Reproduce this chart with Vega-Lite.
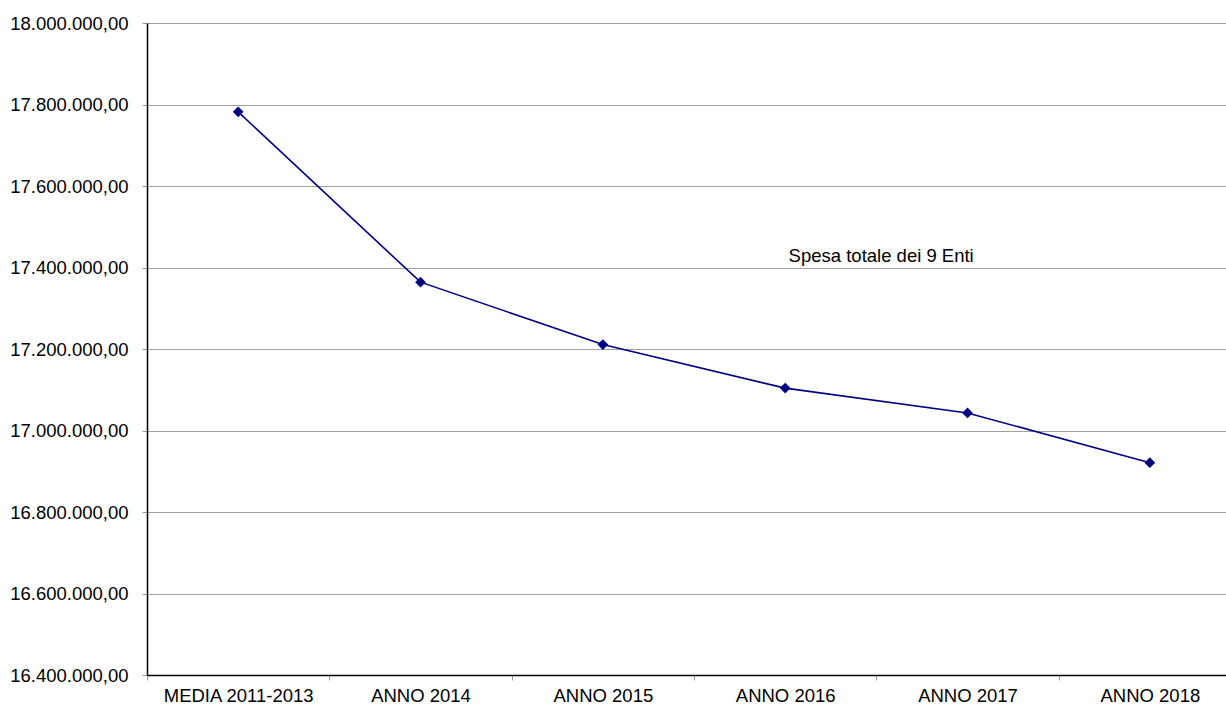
{
  "$schema": "https://vega.github.io/schema/vega-lite/v6.json",
  "width": 1094,
  "height": 652,
  "autosize": {"type": "none"},
  "padding": {"left": 147, "top": 23, "right": 0, "bottom": 29},
  "background": "white",
  "config": {
    "locale": {"number": {"decimal": ",", "thousands": ".", "grouping": [3], "currency": ["€", ""]}},
    "view": {"stroke": null},
    "font": "Liberation Sans"
  },
  "data": {
    "values": [
      {"periodo": "MEDIA 2011-2013", "spesa": 17782000},
      {"periodo": "ANNO 2014", "spesa": 17364000},
      {"periodo": "ANNO 2015", "spesa": 17211000},
      {"periodo": "ANNO 2016", "spesa": 17104000},
      {"periodo": "ANNO 2017", "spesa": 17043000},
      {"periodo": "ANNO 2018", "spesa": 16921000}
    ]
  },
  "encoding": {
    "x": {
      "field": "periodo",
      "type": "nominal",
      "sort": null,
      "scale": {"type": "band", "paddingInner": 0, "paddingOuter": 0},
      "axis": {
        "title": null,
        "labelAngle": 0,
        "labelFont": "Liberation Sans",
        "labelFontSize": 18.5,
        "labelColor": "#000000",
        "labelPadding": 6,
        "domainColor": "#000000",
        "domainWidth": 1.5,
        "tickColor": "#999999",
        "tickSize": 5,
        "tickBand": "extent",
        "grid": false
      }
    },
    "y": {
      "field": "spesa",
      "type": "quantitative",
      "scale": {"domain": [16400000, 18000000], "nice": false, "zero": false},
      "axis": {
        "title": null,
        "values": [16400000, 16600000, 16800000, 17000000, 17200000, 17400000, 17600000, 17800000, 18000000],
        "format": ",.2f",
        "labelFont": "Liberation Sans",
        "labelFontSize": 18.5,
        "labelColor": "#000000",
        "labelPadding": 14,
        "domainColor": "#000000",
        "domainWidth": 1.5,
        "tickColor": "#999999",
        "tickSize": 5,
        "grid": true,
        "gridColor": "#a0a0a0",
        "gridWidth": 1
      }
    }
  },
  "layer": [
    {"mark": {"type": "line", "color": "#000080", "strokeWidth": 1.6}},
    {"mark": {"type": "point", "shape": "diamond", "filled": true, "color": "#000080", "size": 115, "opacity": 1}},
    {
      "transform": [{"filter": "datum.periodo === 'ANNO 2016'"}],
      "mark": {"type": "text", "text": "Spesa totale dei 9 Enti", "font": "Liberation Sans", "fontSize": 18.5, "color": "#000000", "align": "center", "baseline": "alphabetic", "dx": 96},
      "encoding": {
        "y": {"datum": 17413000}
      }
    }
  ]
}
